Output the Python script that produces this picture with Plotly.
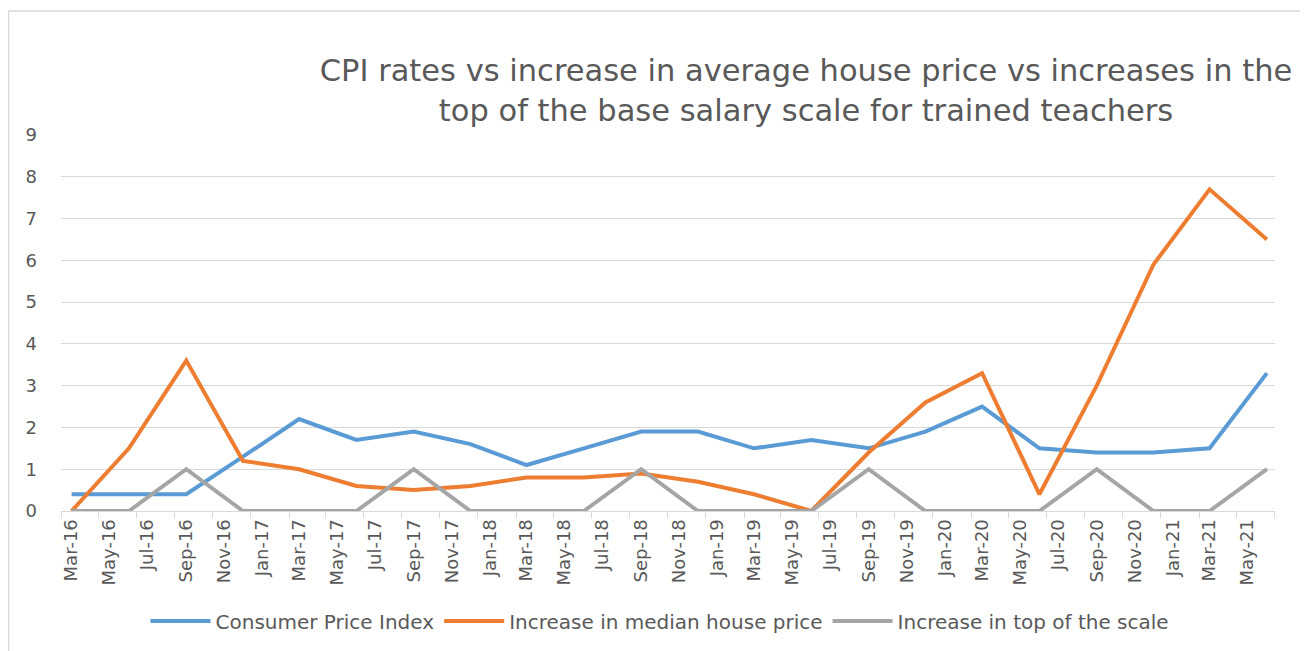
import plotly.graph_objects as go

dates = ["2016-03-01", "2016-06-01", "2016-09-01", "2016-12-01",
         "2017-03-01", "2017-06-01", "2017-09-01", "2017-12-01",
         "2018-03-01", "2018-06-01", "2018-09-01", "2018-12-01",
         "2019-03-01", "2019-06-01", "2019-09-01", "2019-12-01",
         "2020-03-01", "2020-06-01", "2020-09-01", "2020-12-01",
         "2021-03-01", "2021-06-01"]
cpi = [0.4, 0.4, 0.4, 1.3, 2.2, 1.7, 1.9, 1.6, 1.1, 1.5, 1.9, 1.9,
       1.5, 1.7, 1.5, 1.9, 2.5, 1.5, 1.4, 1.4, 1.5, 3.3]
house = [0.0, 1.5, 3.6, 1.2, 1.0, 0.6, 0.5, 0.6, 0.8, 0.8, 0.9, 0.7,
         0.4, 0.0, 1.4, 2.6, 3.3, 0.4, 3.0, 5.9, 7.7, 6.5]
scale = [0, 0, 1, 0, 0, 0, 1, 0, 0, 0, 1, 0, 0, 0, 1, 0, 0, 0, 1, 0, 0, 1]

names = ["Consumer Price Index", "Increase in median house price", "Increase in top of the scale"]
colors = ["#5B9BD5", "#ED7D31", "#A5A5A5"]

fig = go.Figure()
for n, ys, c in zip(names, [cpi, house, scale], colors):
    fig.add_trace(go.Scatter(x=dates, y=ys, mode="lines", name=n,
                             line=dict(color=c, width=4)))

# page body has an 8px margin; figure coordinates = page coordinates - 8
O = 8
W, H = 1300, 643
ML = 61 - O
MR = W - (1275 - O)
MT = 135 - O
MB = H - (511 - O)
pw, ph = W - ML - MR, H - MT - MB

FONT = "DejaVu Sans, Verdana, sans-serif"
TXT = "#595959"

fig.update_layout(
    width=W, height=H,
    margin=dict(l=ML, r=MR, t=MT, b=MB, autoexpand=False),
    paper_bgcolor="white", plot_bgcolor="white",
    font=dict(family=FONT, color=TXT),
    title=dict(text="CPI rates vs increase in average house price vs increases in the<br>top of the base salary scale for trained teachers",
               x=(806 - O) / W, xanchor="center", xref="container",
               y=1 - (81 - O) / H, yanchor="middle", yref="container",
               font=dict(size=30.5, color=TXT, family=FONT)),
    xaxis=dict(type="date", range=["2016-02-13", "2021-06-14"],
               tickformat="%b-%y", dtick="M2", tick0="2016-03-01",
               tickangle=-90, tickfont=dict(size=18, color=TXT, family=FONT),
               showgrid=False, showline=True, linecolor="#D9D9D9", linewidth=1,
               ticks="",
               minor=dict(ticks="outside", dtick="M2", tick0="2016-02-13",
                          ticklen=6, tickcolor="#D9D9D9", showgrid=False),
               zeroline=False),
    yaxis=dict(range=[0, 9], dtick=1, showgrid=True, gridcolor="#D9D9D9",
               gridwidth=1, zeroline=False, ticks="",
               tickfont=dict(size=18, color=TXT, family=FONT),
               ticklabelstandoff=23),
    legend=dict(orientation="h", x=(660 - O) / W, xanchor="center", xref="container",
                y=1 - (621 - O) / H, yanchor="middle", yref="container",
                font=dict(size=20, color=TXT, family=FONT), itemwidth=60,
                traceorder="normal"),
    shapes=[dict(type="rect", xref="paper", yref="paper",
                 x0=(0.5 - ML) / pw, x1=(1294 - ML) / pw,
                 y0=(H - MB - 700) / ph, y1=(H - MB - 3) / ph,
                 line=dict(color="#D9D9D9", width=1.5), layer="below")],
)

fig.write_html("out.html")
